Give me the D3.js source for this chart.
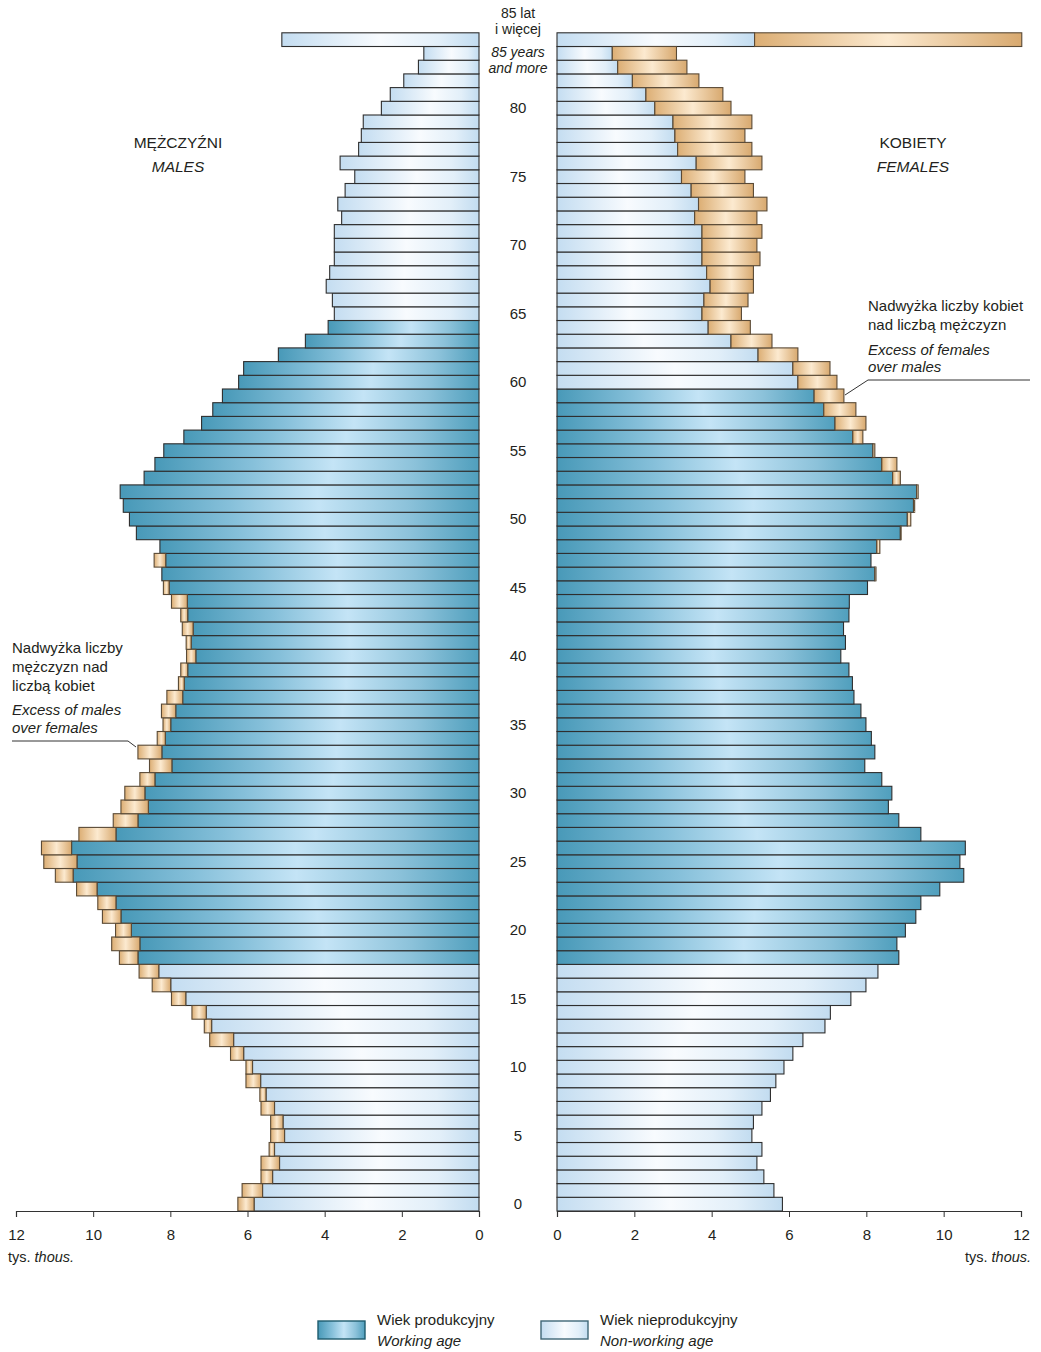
<!DOCTYPE html>
<html>
<head>
<meta charset="utf-8">
<script src="https://cdn.jsdelivr.net/npm/d3@7"></script>
<style>
  body { margin: 0; background: #fff; }
  svg text { font-family: "Liberation Sans", Arial, sans-serif; fill: #231f20; }
</style>
</head>
<body>
<div class="chart"></div>
<script>
// ages from 0 to 85 (85 = "85 and more")
var ages = d3.range(0, 86);

// thousands, index = age
var males = [
  6.25, 6.14, 5.65, 5.65, 5.44, 5.40, 5.40, 5.65, 5.68, 6.04,
  6.04, 6.44, 6.98, 7.12, 7.44, 7.97, 8.47, 8.81, 9.32, 9.52,
  9.42, 9.76, 9.88, 10.43, 10.98, 11.28, 11.34, 10.37, 9.48, 9.28,
  9.18, 8.79, 8.54, 8.84, 8.34, 8.19, 8.23, 8.09, 7.79, 7.73,
  7.58, 7.59, 7.69, 7.73, 7.97, 8.18, 8.22, 8.42, 8.27, 8.88,
  9.06, 9.22, 9.30, 8.68, 8.40, 8.17, 7.65, 7.19, 6.90, 6.65,
  6.23, 6.10, 5.20, 4.50, 3.91, 3.75, 3.80, 3.96, 3.87, 3.75,
  3.75, 3.75, 3.56, 3.66, 3.47, 3.22, 3.60, 3.12, 3.05, 3.00,
  2.53, 2.30, 1.95, 1.57, 1.43, 5.11
];

var females = [
  5.83, 5.61, 5.35, 5.17, 5.30, 5.04, 5.08, 5.30, 5.52, 5.66,
  5.87, 6.10, 6.36, 6.93, 7.07, 7.60, 7.99, 8.30, 8.84, 8.79,
  9.01, 9.28, 9.41, 9.90, 10.52, 10.42, 10.56, 9.41, 8.84, 8.57,
  8.66, 8.40, 7.96, 8.22, 8.13, 7.99, 7.86, 7.68, 7.64, 7.55,
  7.34, 7.46, 7.41, 7.55, 7.56, 8.03, 8.25, 8.12, 8.35, 8.90,
  9.15, 9.25, 9.34, 8.88, 8.79, 8.22, 7.91, 7.99, 7.73, 7.42,
  7.24, 7.06, 6.23, 5.56, 5.00, 4.77, 4.94, 5.08, 5.08, 5.25,
  5.17, 5.30, 5.17, 5.43, 5.08, 4.86, 5.30, 5.04, 4.86, 5.04,
  4.50, 4.29, 3.67, 3.36, 3.09, 12.02
];

// working age ranges
var workMale = [18, 64];
var workFemale = [18, 59];

var ageTicks = [0, 5, 10, 15, 20, 25, 30, 35, 40, 45, 50, 55, 60, 65, 70, 75, 80];
var xTicks = [0, 2, 4, 6, 8, 10, 12];

var W = 1041, H = 1352;

var svg = d3.select('.chart').append('svg')
  .attr('width', W)
  .attr('height', H);

var defs = svg.append('defs');
var makeGrad = function(id, stops) {
  var g = defs.append('linearGradient').attr('id', id)
    .attr('x1', '0%').attr('x2', '100%').attr('y1', '0%').attr('y2', '0%');
  stops.forEach(function(s) {
    g.append('stop').attr('offset', s[0]).attr('stop-color', s[1]);
  });
};
makeGrad('gWork', [[0, '#4899b8'], [0.3, '#86c0da'], [0.55, '#c4e4f6'], [0.8, '#8cc2da'], [1, '#509fbd']]);
makeGrad('gRest', [[0, '#c4ddf1'], [0.5, '#f8fbfe'], [0.8, '#e2eff9'], [1, '#c2dcf0']]);
makeGrad('gExcess', [[0, '#dcae74'], [0.5, '#fcead0'], [1, '#d8a96f']]);

var y = d3.scaleBand()
  .domain(ages.slice().reverse())
  .range([32.8, 1211])
  .paddingInner(0);

var xL = d3.scaleLinear().domain([0, 12]).range([479, 16]);
var xR = d3.scaleLinear().domain([0, 12]).range([557, 1021]);

var rows = ages.map(function(a) {
  return { age: a, m: males[a], f: females[a], base: Math.min(males[a], females[a]) };
});

var inRange = function(a, r) { return a >= r[0] && a <= r[1]; };
var stroke = '#2e2e2e';

// male side
var gm = svg.append('g');
gm.selectAll('rect.base').data(rows).join('rect')
  .attr('class', 'base')
  .attr('x', function(d) { return xL(d.base); })
  .attr('y', function(d) { return y(d.age); })
  .attr('width', function(d) { return xL(0) - xL(d.base); })
  .attr('height', y.bandwidth())
  .attr('fill', function(d) { return inRange(d.age, workMale) ? 'url(#gWork)' : 'url(#gRest)'; })
  .attr('stroke', stroke).attr('stroke-width', 1.1);
gm.selectAll('rect.ex').data(rows.filter(function(d) { return d.m > d.f; })).join('rect')
  .attr('class', 'ex')
  .attr('x', function(d) { return xL(d.m); })
  .attr('y', function(d) { return y(d.age); })
  .attr('width', function(d) { return xL(d.f) - xL(d.m); })
  .attr('height', y.bandwidth())
  .attr('fill', 'url(#gExcess)')
  .attr('stroke', '#5a4a36').attr('stroke-width', 1.1);

// female side
var gf = svg.append('g');
gf.selectAll('rect.base').data(rows).join('rect')
  .attr('class', 'base')
  .attr('x', xR(0))
  .attr('y', function(d) { return y(d.age); })
  .attr('width', function(d) { return xR(d.base) - xR(0); })
  .attr('height', y.bandwidth())
  .attr('fill', function(d) { return inRange(d.age, workFemale) ? 'url(#gWork)' : 'url(#gRest)'; })
  .attr('stroke', stroke).attr('stroke-width', 1.1);
gf.selectAll('rect.ex').data(rows.filter(function(d) { return d.f > d.m; })).join('rect')
  .attr('class', 'ex')
  .attr('x', function(d) { return xR(d.m); })
  .attr('y', function(d) { return y(d.age); })
  .attr('width', function(d) { return xR(d.f) - xR(d.m); })
  .attr('height', y.bandwidth())
  .attr('fill', 'url(#gExcess)')
  .attr('stroke', '#5a4a36').attr('stroke-width', 1.1);

// axes
var axisY = 1211;
var axL = svg.append('g').attr('transform', 'translate(0,' + axisY + ')')
  .call(d3.axisBottom(xL).tickValues(xTicks).tickSize(6).tickPadding(12).tickFormat(d3.format('d')));
var axR = svg.append('g').attr('transform', 'translate(0,' + axisY + ')')
  .call(d3.axisBottom(xR).tickValues(xTicks).tickSize(6).tickPadding(12).tickFormat(d3.format('d')));
[axL, axR].forEach(function(ax) {
  ax.select('.domain').attr('stroke', '#333').attr('stroke-width', 1.2);
  ax.selectAll('.tick line').attr('stroke', '#333');
  ax.selectAll('.tick text').attr('font-size', 15).attr('font-family', '"Liberation Sans", Arial, sans-serif').attr('fill', '#231f20');
});

// age labels
svg.append('g').selectAll('text').data(ageTicks).join('text')
  .attr('x', 518)
  .attr('y', function(a) { return y(a) + y.bandwidth() / 2; })
  .attr('dy', '0.35em')
  .attr('text-anchor', 'middle')
  .attr('font-size', 15)
  .text(function(a) { return a; });

var label = function(x, yy, txt, opts) {
  opts = opts || {};
  return svg.append('text')
    .attr('x', x).attr('y', yy)
    .attr('text-anchor', opts.anchor || 'start')
    .attr('font-size', opts.size || 15)
    .attr('font-style', opts.italic ? 'italic' : 'normal')
    .text(txt);
};

label(518, 18, '85 lat', { anchor: 'middle', size: 14 });
label(518, 34, 'i więcej', { anchor: 'middle', size: 14 });
label(518, 57, '85 years', { anchor: 'middle', size: 14, italic: true });
label(518, 73, 'and more', { anchor: 'middle', size: 14, italic: true });

label(178, 148, 'MĘŻCZYŹNI', { anchor: 'middle', size: 15.5 });
label(178, 172, 'MALES', { anchor: 'middle', size: 15.5, italic: true });
label(913, 148, 'KOBIETY', { anchor: 'middle', size: 15.5 });
label(913, 172, 'FEMALES', { anchor: 'middle', size: 15.5, italic: true });

label(868, 311, 'Nadwyżka liczby kobiet');
label(868, 330, 'nad liczbą mężczyzn');
label(868, 355, 'Excess of females', { italic: true });
label(868, 372, 'over males', { italic: true });
svg.append('path')
  .attr('d', d3.line()([[1030, 380], [868, 380], [845, 395]]))
  .attr('fill', 'none').attr('stroke', '#333').attr('stroke-width', 1);

label(12, 653, 'Nadwyżka liczby');
label(12, 672, 'mężczyzn nad');
label(12, 691, 'liczbą kobiet');
label(12, 715, 'Excess of males', { italic: true });
label(12, 733, 'over females', { italic: true });
svg.append('path')
  .attr('d', d3.line()([[12, 741], [128, 741], [136, 747]]))
  .attr('fill', 'none').attr('stroke', '#333').attr('stroke-width', 1);

// unit labels
var unit = function(x) {
  var t = svg.append('text').attr('x', x).attr('y', 1262).attr('font-size', 14.5);
  t.append('tspan').text('tys. ');
  t.append('tspan').attr('font-style', 'italic').text('thous.');
};
unit(8);
unit(965);

// legend
var legend = [
  { fill: 'url(#gWork)', stroke: '#1f5c6e', pl: 'Wiek produkcyjny', en: 'Working age', x: 318 },
  { fill: 'url(#gRest)', stroke: '#3f6777', pl: 'Wiek nieprodukcyjny', en: 'Non-working age', x: 541 }
];
var lg = svg.append('g').selectAll('g').data(legend).join('g')
  .attr('transform', function(d) { return 'translate(' + d.x + ',1321)'; });
lg.append('rect')
  .attr('width', 47).attr('height', 18)
  .attr('fill', function(d) { return d.fill; })
  .attr('stroke', function(d) { return d.stroke; }).attr('stroke-width', 1.4);
lg.append('text').attr('x', 59).attr('y', 4).attr('font-size', 15).text(function(d) { return d.pl; });
lg.append('text').attr('x', 59).attr('y', 25).attr('font-size', 15).attr('font-style', 'italic').text(function(d) { return d.en; });
</script>
</body>
</html>
